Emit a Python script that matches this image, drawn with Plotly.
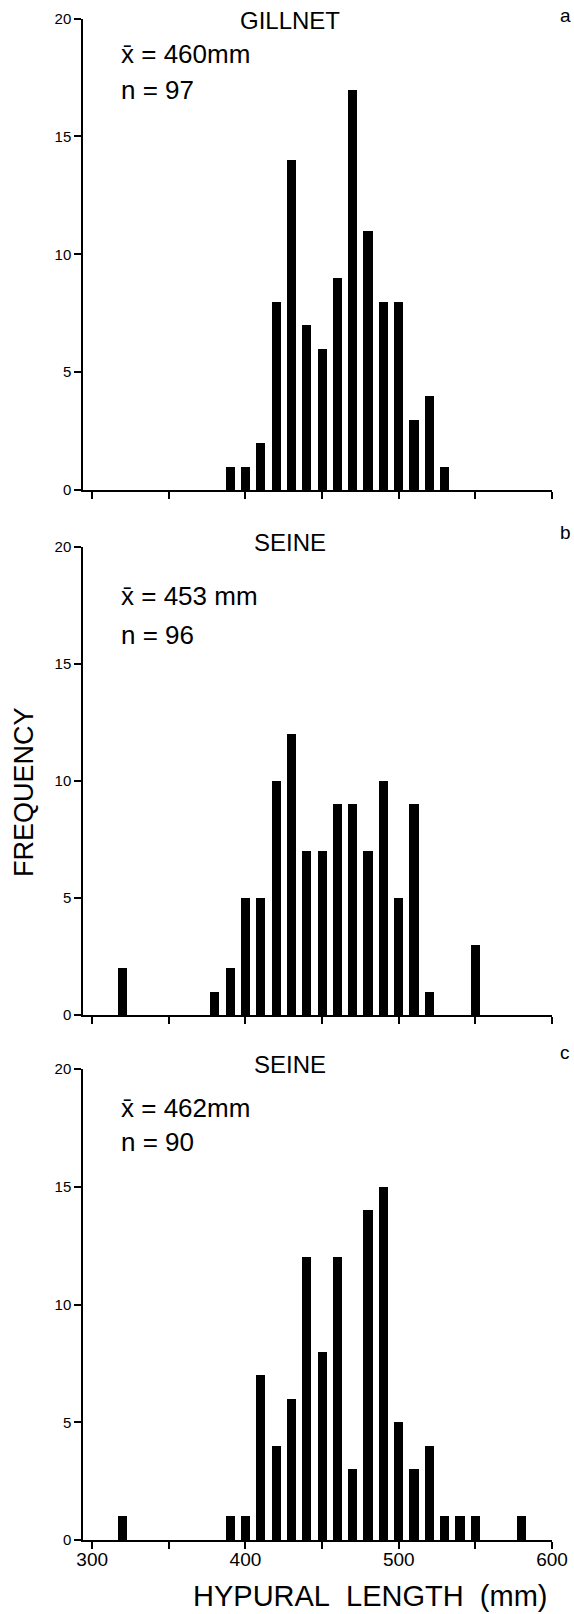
import plotly.graph_objects as go

# ---- data ----
gill_len = [390, 400, 410, 420, 430, 440, 450, 460, 470, 480, 490, 500, 510, 520, 530]
gill_cnt = [1, 1, 2, 8, 14, 7, 6, 9, 17, 11, 8, 8, 3, 4, 1]

seine_b_len = [320, 380, 390, 400, 410, 420, 430, 440, 450, 460, 470, 480, 490, 500, 510, 520, 550]
seine_b_cnt = [2, 1, 2, 5, 5, 10, 12, 7, 7, 9, 9, 7, 10, 5, 9, 1, 3]

seine_c_len = [320, 390, 400, 410, 420, 430, 440, 450, 460, 470, 480, 490, 500, 510, 520, 530, 540, 550, 580]
seine_c_cnt = [1, 1, 1, 7, 4, 6, 12, 8, 12, 3, 14, 15, 5, 3, 4, 1, 1, 1, 1]

panel_titles = ["GILLNET", "SEINE", "SEINE"]
panel_letters = ["a", "b", "c"]
mean_text = ["x\u0304 = 460mm", "x\u0304 = 453 mm", "x\u0304 = 462mm"]
n_text = ["n = 97", "n = 96", "n = 90"]
x_ticks = [300, 350, 400, 450, 500, 550, 600]
x_ticklabels = ["300", "", "400", "", "500", "", "600"]
y_ticks = [0, 5, 10, 15, 20]

W, H = 574, 1614
FONT = "Liberation Sans"

def px(x):
    return x / W

def py(y):
    return 1 - y / H

# plot area (pixel coords: top, bottom)
panels = [(18.5, 490), (547, 1015), (1069, 1540)]
x_dom = [px(83), px(552)]

fig = go.Figure()
series = [(gill_len, gill_cnt), (seine_b_len, seine_b_cnt), (seine_c_len, seine_c_cnt)]
layout = dict(
    width=W, height=H, margin=dict(l=0, r=0, t=0, b=0),
    paper_bgcolor="white", plot_bgcolor="white", showlegend=False,
    font=dict(family=FONT, color="black"),
    bargap=0,
)
annotations = []
for i, ((xs, ys), (top, bot)) in enumerate(zip(series, panels)):
    k = "" if i == 0 else str(i + 1)
    fig.add_trace(go.Bar(x=xs, y=ys, width=6, marker=dict(color="black", line=dict(width=0)),
                         xaxis="x" + k, yaxis="y" + k))
    layout["xaxis" + k] = dict(
        domain=x_dom, range=[294, 600], anchor="y" + k, automargin=False,
        tickvals=x_ticks, ticktext=x_ticklabels, showticklabels=(i == 2),
        ticks="outside", ticklen=7, tickwidth=1.5, tickcolor="black", ticklabelstandoff=-6,
        showline=True, linecolor="black", linewidth=1.5, showgrid=False, zeroline=False,
        tickfont=dict(size=19, family=FONT),
    )
    layout["yaxis" + k] = dict(
        domain=[py(bot), py(top)], range=[0, 20], anchor="x" + k, automargin=False,
        tickvals=y_ticks, ticks="outside", ticklen=7, tickwidth=1.5, tickcolor="black",
        showline=True, linecolor="black", linewidth=1.5, showgrid=False, zeroline=False,
        tickfont=dict(size=15, family=FONT),
    )
    title_off = [2, -4, -5][i]
    annotations.append(dict(text=panel_titles[i], x=px(290), y=py(top + title_off), xref="paper", yref="paper",
                            showarrow=False, font=dict(size=24, family=FONT), xanchor="center", yanchor="middle"))
    annotations.append(dict(text=panel_letters[i], x=px(565), y=py(top - [3, 15, 17][i]), xref="paper", yref="paper",
                            showarrow=False, font=dict(size=19, family=FONT), xanchor="center", yanchor="middle"))
    m_off = [36, 49, 39][i]
    n_off = [71, 88, 73][i]
    annotations.append(dict(text=mean_text[i], x=px(119), y=py(top + m_off), xref="paper", yref="paper",
                            showarrow=False, font=dict(size=26, family=FONT), xanchor="left", yanchor="middle"))
    annotations.append(dict(text=n_text[i], x=px(119), y=py(top + n_off), xref="paper", yref="paper",
                            showarrow=False, font=dict(size=26, family=FONT), xanchor="left", yanchor="middle"))

annotations.append(dict(text="FREQUENCY", x=px(24), y=py(792), xref="paper", yref="paper", textangle=-90,
                        showarrow=False, font=dict(size=27, family=FONT), xanchor="center", yanchor="middle"))
annotations.append(dict(text="HYPURAL\u00a0\u00a0LENGTH\u00a0\u00a0(mm)", x=px(370), y=py(1613), xref="paper", yref="paper",
                        showarrow=False, font=dict(size=29, family=FONT), xanchor="center", yanchor="bottom",
                        borderpad=0))
layout["annotations"] = annotations
fig.update_layout(**layout)
fig.write_html("out.html", config={"displayModeBar": False},
               post_script="document.body.style.margin='0';document.body.style.overflow='hidden';")
